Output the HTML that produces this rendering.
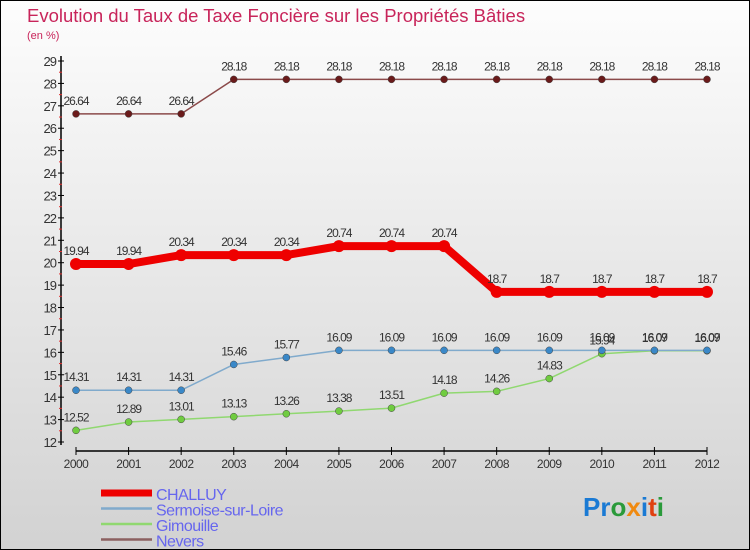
<!DOCTYPE html>
<html><head><meta charset="utf-8"><style>
html,body{margin:0;padding:0}
body{width:750px;height:550px;overflow:hidden;font-family:"Liberation Sans",sans-serif}
#wrap{position:relative;width:748px;height:548px;border:1px solid #000;background:linear-gradient(#fdfdfd,#d2d2d2)}
</style></head><body>
<div id="wrap">
<svg id="chart" width="748" height="548" style="position:absolute;left:0;top:0">
<text x="26" y="21" font-size="18.5" fill="#c8245a">Evolution du Taux de Taxe Foncière sur les Propriétés Bâties</text>
<text x="26" y="38" font-size="11" fill="#c8245a">(en %)</text>
<g id="axes"></g><g id="series"></g><g id="legend"></g>
<text x="582" y="515" font-size="26" font-weight="bold"><tspan fill="#1a7ad4">Pr</tspan><tspan fill="#2a9a3a">o</tspan><tspan fill="#f08a10">x</tspan><tspan fill="#1a7ad4">i</tspan><tspan fill="#e04010">t</tspan><tspan fill="#2a9a3a">i</tspan></text>
</svg>
</div>
<script>
const years=[2000,2001,2002,2003,2004,2005,2006,2007,2008,2009,2010,2011,2012];
const yTicks=[12,13,14,15,16,17,18,19,20,21,22,23,24,25,26,27,28,29];
const challuy=[19.94,19.94,20.34,20.34,20.34,20.74,20.74,20.74,18.7,18.7,18.7,18.7,18.7];
const sermoise=[14.31,14.31,14.31,15.46,15.77,16.09,16.09,16.09,16.09,16.09,16.09,16.09,16.09];
const gimouille=[12.52,12.89,13.01,13.13,13.26,13.38,13.51,14.18,14.26,14.83,15.94,16.07,16.07];
const nevers=[26.64,26.64,26.64,28.18,28.18,28.18,28.18,28.18,28.18,28.18,28.18,28.18,28.18];
const NS="http://www.w3.org/2000/svg";
const x=i=>75+i*(706-75)/12;
const y=v=>441-(v-12)*(441-60)/17;
function mk(t,a,p){const e=document.createElementNS(NS,t);for(const k in a)e.setAttribute(k,a[k]);p.appendChild(e);return e;}
const ax=document.getElementById('axes');
let e=mk('line',{x1:60,y1:55,x2:60,y2:444,stroke:'#000','stroke-width':1.5},ax);


e=mk('line',{x1:75,y1:450,x2:706,y2:450,stroke:'#000','stroke-width':1.5},ax);


yTicks.forEach(v=>{
 mk('line',{x1:57,y1:y(v),x2:63,y2:y(v),stroke:'#000'},ax);
 if(v<29)mk('line',{x1:58,y1:y(v+0.5),x2:61,y2:y(v+0.5),stroke:'#e03030'},ax);
 const t=mk('text',{x:55,y:y(v)+5,'font-size':13,'text-anchor':'end',fill:'#333','letter-spacing':'-1'},ax);
 t.textContent=v;
 
 
});
years.forEach((yr,i)=>{
 mk('line',{x1:x(i),y1:446,x2:x(i),y2:454,stroke:'#000'},ax);
 const t=mk('text',{x:x(i),y:467,'font-size':12,'text-anchor':'middle',fill:'#333','letter-spacing':'-0.5'},ax);
 t.textContent=yr;
 
 
});
const sg=document.getElementById('series');
function series(vals,color,w,r,dot,name){
 const g=mk('g',{},sg);
 
 
 const p=mk('polyline',{points:vals.map((v,i)=>x(i)+','+y(v)).join(' '),fill:'none',stroke:color,'stroke-width':w,'stroke-linejoin':'round'},g);
 
 
 vals.forEach((v,i)=>{
  const c=mk('circle',{cx:x(i),cy:y(v),r:r,fill:dot,stroke:w>4?color:'#444','stroke-width':w>4?0:0.5},g);
  
  
  const t=mk('text',{x:x(i),y:y(v)-9,'font-size':12,'text-anchor':'middle',fill:'#333','letter-spacing':'-1'},g);
  t.textContent=v;
  
  
 });
}
series(nevers,'#8b4a4a',1.5,3.5,'#6a1a1a','nevers');
series(gimouille,'#90d870',1.5,3.5,'#70cc40','gimouille');
series(sermoise,'#80aacc',1.5,3.5,'#3a88c8','sermoise');
series(challuy,'#ee0000',8,6,'#ee0000','challuy');
const lg=document.getElementById('legend');
const items=[['CHALLUY','#ee0000',7],['Sermoise-sur-Loire','#80aacc',2.5],['Gimouille','#90d870',2.5],['Nevers','#8b6060',2.5]];
items.forEach((it,i)=>{
 const yy=492+i*15.5;
 const l=mk('line',{x1:100,y1:yy,x2:151,y2:yy,stroke:it[1],'stroke-width':it[2]},lg);
 
 
 const t=mk('text',{x:155,y:yy+7,'font-size':16,fill:'#6666ee','letter-spacing':'-0.5'},lg);
 t.textContent=it[0];
 
 
});
</script>
</body></html>
